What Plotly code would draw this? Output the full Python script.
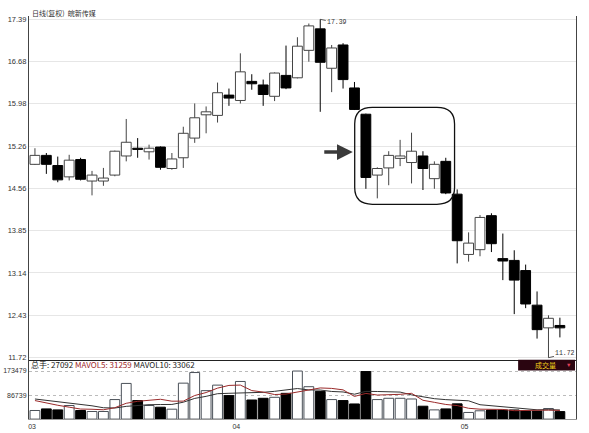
import plotly.graph_objects as go

# ---------------- data ----------------
open_ = [14.96, 15.11, 14.94, 14.75, 15.04, 14.68, 14.68, 14.78, 15.10, 15.23,
         15.17, 15.25, 14.89, 15.07, 15.40, 15.79, 15.78, 16.12, 16.03, 16.35,
         16.29, 16.10, 16.45, 16.41, 16.87, 17.23, 16.57, 16.96, 16.24, 15.80,
         14.78, 14.90, 15.06, 14.99, 15.10, 14.72, 15.01, 14.46, 13.45, 13.53,
         14.10, 13.38, 13.35, 13.18, 12.60, 12.22, 12.26]
high = [15.23, 15.15, 15.09, 15.12, 15.07, 14.85, 14.90, 15.19, 15.72, 15.40,
        15.29, 15.26, 15.15, 15.59, 15.98, 15.93, 16.33, 16.23, 16.82, 16.47,
        16.38, 16.50, 16.95, 17.09, 17.32, 17.39, 16.96, 16.99, 16.34, 15.81,
        14.91, 15.18, 15.37, 15.49, 15.18, 15.01, 15.07, 14.54, 13.82, 14.11,
        14.14, 13.80, 13.52, 13.28, 12.83, 12.43, 12.39]
low = [14.95, 14.80, 14.66, 14.69, 14.69, 14.44, 14.60, 14.76, 15.01, 15.07,
       15.04, 14.87, 14.87, 14.90, 15.32, 15.48, 15.66, 15.94, 15.98, 16.21,
       15.94, 16.02, 16.22, 16.40, 16.68, 15.84, 16.17, 16.23, 15.87, 14.55,
       14.39, 14.61, 14.93, 14.64, 14.53, 14.55, 14.46, 13.30, 13.33, 13.42,
       13.49, 13.02, 12.45, 12.55, 12.04, 11.72, 12.06]
close = [15.11, 14.96, 14.70, 15.03, 14.71, 14.78, 14.73, 15.18, 15.33, 15.21,
         15.23, 14.91, 15.05, 15.48, 15.74, 15.84, 16.16, 16.07, 16.51, 16.31,
         16.13, 16.49, 16.24, 16.94, 17.28, 16.67, 16.91, 16.38, 15.88, 14.74,
         14.89, 15.11, 15.10, 15.18, 14.89, 14.96, 14.48, 13.68, 13.64, 14.07,
         13.63, 13.34, 13.02, 12.62, 12.19, 12.38, 12.22]
volume = [31100, 36800, 33300, 49000, 31100, 27500, 27500, 70500, 128800, 66900,
          49000, 42900, 35800, 129800, 168100, 102700, 122700, 84800, 135900, 69000,
          75100, 78700, 93000, 173479, 117000, 100200, 70500, 66900, 54700, 171700,
          70500, 75100, 75100, 72600, 46500, 33300, 36800, 55000, 24000, 30000,
          32700, 32600, 33000, 29000, 29000, 38200, 27092]
mavol5 = [66900, 58000, 50000, 43000, 36260, 35540, 33680, 41120, 57080, 64240,
          68540, 71620, 64680, 64880, 85120, 95860, 111820, 121620, 122840, 103020,
          97500, 88700, 90340, 97856, 107456, 112476, 110836, 105616, 81860, 92800,
          86860, 87780, 89420, 93000, 67960, 60520, 52860, 48840, 39120, 35820,
          35700, 34860, 30460, 31460, 31260, 32360, 31259]
mavol10 = [72600, 68000, 63000, 58000, 53000, 48000, 41000, 40000, 46000, 50250,
           52040, 52650, 52900, 60980, 74680, 82200, 91720, 93150, 93860, 94070,
           96680, 100260, 105980, 110348, 105238, 104988, 99768, 97978, 89858, 100128,
           99668, 99308, 97518, 87430, 80380, 73690, 70320, 69130, 66060, 51890,
           48110, 43860, 39650, 35290, 33540, 34030, 33062]
price_ticks = [11.72, 12.43, 13.14, 13.85, 14.56, 15.26, 15.98, 16.68, 17.39]
price_ticktext = ["11.72", "12.43", "13.14", "13.85", "14.56", "15.26", "15.98", "16.68", "17.39"]
vol_ticks = [86739, 173479]
vol_ticktext = ["86739", "173479"]
month_pos = [-0.25, 17.65, 37.65]
month_labels = ["03", "04", "05"]
title_text = "日线(复权)  皖新传媒"

# ---------------- build ----------------
W, H = 589, 433
n = len(open_)
idx = list(range(n))
up = [c >= o for o, c in zip(open_, close)]

fig = go.Figure()

# wicks (split so they do not pass through hollow bodies)
for is_up, col in [(True, "#444444"), (False, "#000000")]:
    wx, wy = [], []
    for i in idx:
        if up[i] != is_up:
            continue
        top = max(open_[i], close[i])
        bot = min(open_[i], close[i])
        wx += [i, i, None, i, i, None]
        wy += [high[i], top, None, bot, low[i], None]
    fig.add_trace(go.Scatter(x=wx, y=wy, mode="lines", line=dict(color=col, width=1),
                             hoverinfo="skip", showlegend=False, xaxis="x", yaxis="y"))

# bodies
for is_up, fill, lc in [(True, "#ffffff", "#444444"), (False, "#000000", "#000000")]:
    bx = [i for i in idx if up[i] == is_up]
    base = [min(open_[i], close[i]) for i in bx]
    hgt = [max(abs(close[i] - open_[i]), 0.012) for i in bx]
    fig.add_trace(go.Bar(x=bx, y=hgt, base=base, width=0.86,
                         marker=dict(color=fill, line=dict(color=lc, width=1)),
                         showlegend=False, xaxis="x", yaxis="y"))

# volume bars
for is_up, fill, lc in [(True, "#ffffff", "#4a5058"), (False, "#000000", "#000000")]:
    bx = [i for i in idx if up[i] == is_up]
    fig.add_trace(go.Bar(x=bx, y=[volume[i] for i in bx], width=0.86,
                         marker=dict(color=fill, line=dict(color=lc, width=1)),
                         showlegend=False, xaxis="x2", yaxis="y2"))

fig.add_trace(go.Scatter(x=idx, y=mavol10, mode="lines", line=dict(color="#333333", width=1),
                         showlegend=False, xaxis="x2", yaxis="y2"))
fig.add_trace(go.Scatter(x=idx, y=mavol5, mode="lines", line=dict(color="#9a2a2a", width=1),
                         showlegend=False, xaxis="x2", yaxis="y2"))

# geometry (pixels -> paper)
x_left, x_right = 28, 575.5
p_top, p_bot = 15, 362
v_top, v_bot = 362, 422
xdom = [x_left / W, x_right / W]
xr = [-0.525, 47.37]

font_main = "Liberation Sans, Arial, sans-serif"
cjk = "Noto Sans CJK SC, sans-serif"

fig.update_layout(
    width=W, height=H, margin=dict(l=0, r=0, t=0, b=0),
    paper_bgcolor="white", plot_bgcolor="white",
    barmode="overlay", showlegend=False,
    xaxis=dict(domain=xdom, range=xr, anchor="y", showticklabels=False, showgrid=False,
               zeroline=False, showline=True, linecolor="#222222", linewidth=1, ticks=""),
    yaxis=dict(domain=[1 - p_bot / H, 1 - p_top / H], range=[11.687, 17.448], anchor="x",
               tickvals=price_ticks, ticktext=price_ticktext, ticks="",
               tickfont=dict(size=7.5, color="#333333", family=font_main),
               showgrid=True, gridcolor="#e6e6e6", gridwidth=1, zeroline=False,
               showline=True, mirror=True, linecolor="#444444", linewidth=1),
    xaxis2=dict(domain=xdom, range=xr, anchor="y2", tickvals=month_pos, ticktext=month_labels,
                ticks="", tickfont=dict(size=7, color="#333333", family=font_main),
                showgrid=False, zeroline=False, showline=True, linecolor="#999999", linewidth=1),
    yaxis2=dict(domain=[1 - v_bot / H, 1 - v_top / H], range=[0, 214600], anchor="x2",
                tickvals=vol_ticks, ticktext=vol_ticktext, ticks="",
                tickfont=dict(size=7, color="#333333", family=font_main),
                showgrid=True, gridcolor="#bbbbbb", griddash="dot", gridwidth=1, zeroline=False,
                showline=True, mirror=True, linecolor="#444444", linewidth=1),
)

ann = []
# title
ann.append(dict(xref="paper", yref="paper", x=x_left / W + 0.001, y=1 - 12 / H, xanchor="left",
                yanchor="middle", text=title_text, showarrow=False,
                font=dict(size=7, color="#333333", family=cjk)))
# volume header
ann.append(dict(xref="paper", yref="paper", x=x_left / W, y=1 - 367 / H, xanchor="left",
                yanchor="middle", showarrow=False,
                text=("总手: 27092 <span style='color:#a0282a'>MAVOL5: 31259</span> "
                      "MAVOL10: 33062"),
                font=dict(size=8, color="#222222", family=cjk)))
# max / min labels
imax = high.index(max(high))
imin = low.index(min(low))
ann.append(dict(x=imax, y=high[imax], xref="x", yref="y", text=f"{max(high):.2f}",
                showarrow=True, arrowhead=0, arrowwidth=0.8, arrowcolor="#333333",
                ax=17, ay=3.5, font=dict(size=6.5, color="#333333", family="Liberation Mono")))
ann.append(dict(x=imin, y=low[imin], xref="x", yref="y", text=f"{min(low):.2f}",
                showarrow=True, arrowhead=0, arrowwidth=0.8, arrowcolor="#333333",
                ax=17, ay=-4, font=dict(size=6.5, color="#333333", family="Liberation Mono")))
# arrow pointing to the box
ann.append(dict(x=27.85, y=15.165, xref="x", yref="y", ax=-30, ay=0, text="",
                showarrow=True, arrowhead=2, arrowsize=0.9, arrowwidth=3.5, arrowcolor="#3a3a3a"))
# 成交量 label
ann.append(dict(xref="paper", yref="paper", x=545 / W, y=1 - 367.5 / H, text="成交量",
                xanchor="center", yanchor="middle",
                showarrow=False, font=dict(size=7, color="#f2d21a", family=cjk)))
ann.append(dict(xref="paper", yref="paper", x=568 / W, y=1 - 367.5 / H, text="▼",
                xanchor="center", yanchor="middle",
                showarrow=False, font=dict(size=5.5, color="#e0405a", family=font_main)))
fig.update_layout(annotations=ann)

# rounded rectangle around consolidation candles
x0, x1, y0, y1 = 28.02, 36.77, 14.29, 15.916
rx, ry = 1.55, 0.28
path = (f"M {x0+rx},{y1} L {x1-rx},{y1} Q {x1},{y1} {x1},{y1-ry} "
        f"L {x1},{y0+ry} Q {x1},{y0} {x1-rx},{y0} L {x0+rx},{y0} "
        f"Q {x0},{y0} {x0},{y0+ry} L {x0},{y1-ry} Q {x0},{y1} {x0+rx},{y1} Z")
fig.add_shape(type="path", path=path, xref="x", yref="y", line=dict(color="#111111", width=1.3))
# 成交量 box background
fig.add_shape(type="rect", xref="paper", yref="paper", x0=518 / W, x1=575 / W,
              y0=1 - 373 / H, y1=1 - 362 / H, fillcolor="#2a0510", line=dict(width=0),
              layer="above")

fig.write_html("out.html")
